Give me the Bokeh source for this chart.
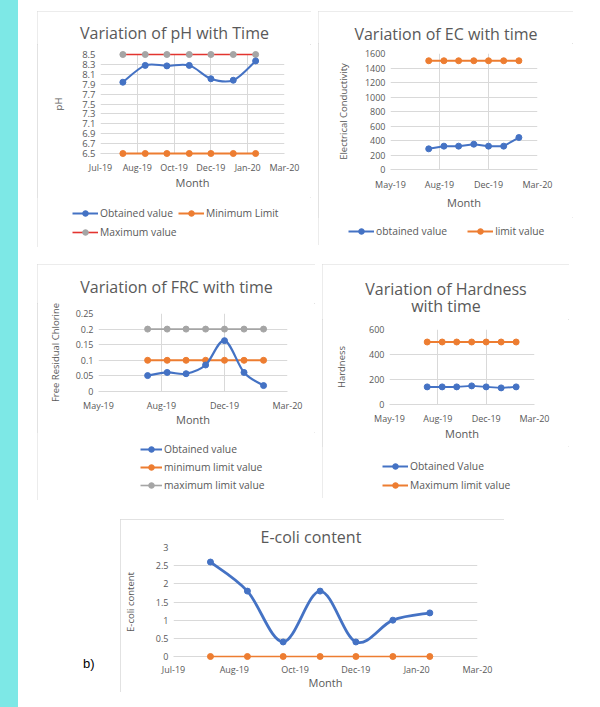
import pandas as pd
from bokeh.plotting import figure
from bokeh.models import (FixedTicker, DatetimeTickFormatter, Legend, LegendItem,
                          Range1d, Spacer, Div, Label, GlobalInlineStyleSheet)
from bokeh.layouts import row, column
from bokeh.embed import file_html
from bokeh.resources import INLINE

# ---------------- data ----------------
sample_months = ["2019-08-01", "2019-09-01", "2019-10-01", "2019-11-01",
                 "2019-12-01", "2020-01-01", "2020-02-01"]

ph_obtained = [7.94, 8.28, 8.27, 8.28, 8.01, 7.98, 8.37]
ph_minimum = [6.5, 6.5, 6.5, 6.5, 6.5, 6.5, 6.5]
ph_maximum = [8.5, 8.5, 8.5, 8.5, 8.5, 8.5, 8.5]
ph_yticks = [6.5, 6.7, 6.9, 7.1, 7.3, 7.5, 7.7, 7.9, 8.1, 8.3, 8.5]

ec_obtained = [285, 322, 322, 349, 322, 322, 441]
ec_limit = [1500, 1500, 1500, 1500, 1500, 1500, 1500]
ec_yticks = [0, 200, 400, 600, 800, 1000, 1200, 1400, 1600]

frc_obtained = [0.051, 0.061, 0.057, 0.085, 0.163, 0.061, 0.019]
frc_minimum = [0.1, 0.1, 0.1, 0.1, 0.1, 0.1, 0.1]
frc_maximum = [0.2, 0.2, 0.2, 0.2, 0.2, 0.2, 0.2]
frc_yticks = [0, 0.05, 0.1, 0.15, 0.2, 0.25]

hardness_obtained = [141, 141, 141, 149, 141, 133, 141]
hardness_maximum = [500, 500, 500, 500, 500, 500, 500]
hardness_yticks = [0, 200, 400, 600]

ecoli_obtained = [2.6, 1.8, 0.4, 1.8, 0.4, 1.0, 1.2]
ecoli_limit = [0, 0, 0, 0, 0, 0, 0]
ecoli_yticks = [0, 0.5, 1, 1.5, 2, 2.5, 3]

# axis tick dates (shown as Mon-YY)
xticks_short = ["2019-07-01", "2019-08-21", "2019-10-11", "2019-12-01", "2020-01-21", "2020-03-12"]
xticks_long = ["2019-05-15", "2019-08-23", "2019-12-01", "2020-03-10"]

# ---------------- style ----------------
FONT = "Open Sans"
TXT = "#595959"
GRID = "#D9D9D9"
BLUE = "#4472C4"
ORANGE = "#ED7D31"
GRAY = "#A5A5A5"
RED = "#E3342F"
BOX = {"outline": "1px solid #D9D9D9", "outline-offset": "-1px"}


def ms(dates):
    return [pd.Timestamp(d).timestamp() * 1000.0 for d in dates]


X = ms(sample_months)


def bare_fig(W, H, xr, yr):
    q = figure(width=W, height=H, x_range=xr, y_range=yr,
               output_backend="svg", toolbar_location=None, min_border=0,
               min_border_left=0, min_border_right=0, min_border_top=0,
               min_border_bottom=0, x_axis_location=None, y_axis_location=None,
               frame_align=False)
    q.grid.visible = False
    q.outline_line_color = None
    q.background_fill_color = "white"
    q.border_fill_color = "white"
    return q


def title_fig(W, H, text, c, lh=1.0):
    t = bare_fig(W, H, Range1d(0, 1), Range1d(0, 1))
    t.add_layout(Label(x=W / 2, y=H - c, x_units="screen", y_units="screen",
                       text=text, text_align="center", text_baseline="middle",
                       text_font=FONT, text_font_size="16px", text_color=TXT,
                       text_line_height=lh))
    return t


def make_fig(W, H, ml, mr, mt, mb, ylabel, yticks, xt, grid_inner,
             xls=8, xals=3, yals=15, title=None, ytick_size="9px"):
    t = ms(xt)
    kw = {}
    if title is not None:
        kw["title"] = title
    p = figure(width=W, height=H, x_axis_type="datetime",
               x_range=Range1d(t[0], t[-1]),
               y_range=Range1d(yticks[0], yticks[-1]),
               output_backend="svg", toolbar_location=None,
               min_border_left=ml, min_border_right=mr,
               min_border_top=mt, min_border_bottom=mb,
               frame_align=False, **kw)
    if title is not None:
        p.title.text_font = FONT
        p.title.text_font_size = "16px"
        p.title.text_font_style = "normal"
        p.title.text_color = TXT
    p.outline_line_color = None
    p.background_fill_color = "white"
    p.border_fill_color = "white"

    xa = p.xaxis[0]
    ya = p.yaxis[0]
    xa.ticker = FixedTicker(ticks=t)
    fmt = "%b-%y"
    xa.formatter = DatetimeTickFormatter(
        microseconds=fmt, milliseconds=fmt, seconds=fmt, minsec=fmt, minutes=fmt,
        hourmin=fmt, hours=fmt, days=fmt, months=fmt, years=fmt)
    ya.ticker = FixedTicker(ticks=yticks)
    ya.major_label_overrides = {v: f"{v:g}" for v in yticks}
    xa.axis_label = "Month"
    ya.axis_label = ylabel
    for ax in (xa, ya):
        ax.major_label_text_font = FONT
        ax.major_label_text_font_size = "9px"
        ax.major_label_text_color = TXT
        ax.axis_label_text_font = FONT
        ax.axis_label_text_font_style = "normal"
        ax.axis_label_text_color = TXT
        ax.major_tick_line_color = None
        ax.minor_tick_line_color = None
        ax.major_tick_out = 0
        ax.major_tick_in = 0
        ax.minor_tick_out = 0
    ya.major_label_text_font_size = ytick_size
    xa.axis_label_text_font_size = "11px"
    ya.axis_label_text_font_size = "9.5px"
    xa.axis_line_color = GRID
    ya.axis_line_color = None
    xa.major_label_standoff = xls
    xa.axis_label_standoff = xals
    ya.major_label_standoff = 5
    ya.axis_label_standoff = yals

    p.ygrid.grid_line_color = GRID
    p.ygrid.ticker = FixedTicker(ticks=yticks)
    if grid_inner is None:
        p.xgrid.grid_line_color = None
    elif grid_inner == "all":
        p.xgrid.grid_line_color = GRID
        p.xgrid.ticker = FixedTicker(ticks=t)
    else:
        p.xgrid.grid_line_color = GRID
        p.xgrid.ticker = FixedTicker(ticks=t[1:-1])
    return p


def smooth(xs, ys):
    n = len(xs)
    P = list(zip(xs, ys))
    d = dict(x0=[], y0=[], x1=[], y1=[], cx0=[], cy0=[], cx1=[], cy1=[])
    for i in range(n - 1):
        p0 = P[i - 1] if i > 0 else P[i]
        p1 = P[i]
        p2 = P[i + 1]
        p3 = P[i + 2] if i + 2 < n else P[i + 1]
        d["x0"].append(p1[0]); d["y0"].append(p1[1])
        d["x1"].append(p2[0]); d["y1"].append(p2[1])
        d["cx0"].append(p1[0] + (p2[0] - p0[0]) / 6.0)
        d["cy0"].append(p1[1] + (p2[1] - p0[1]) / 6.0)
        d["cx1"].append(p2[0] - (p3[0] - p1[0]) / 6.0)
        d["cy1"].append(p2[1] - (p3[1] - p1[1]) / 6.0)
    return d


def series(p, ys, line_color, marker_color=None, lw=2.0, size=6, smooth_line=False):
    marker_color = marker_color or line_color
    if smooth_line:
        d = smooth(X, ys)
        p.bezier(line_color=line_color, line_width=lw, level="overlay", **d)
    else:
        p.line(X, ys, line_color=line_color, line_width=lw, level="overlay")
    p.scatter(X, ys, size=size, marker="circle", fill_color=marker_color,
              line_color=marker_color, level="overlay")


def legend_fig(W, H, groups):
    # legend strip under a chart; its series renderers lie outside the view
    q = bare_fig(W, H, Range1d(X[0], X[-1]), Range1d(-2, -1))
    for items, vx, vy, orient, spacing, gw in groups:
        lis = []
        for label, ys, lc, mc, lw in items:
            lr = q.line(X, ys, line_color=lc, line_width=lw)
            sr = q.scatter(X, ys, marker="circle", size=6, fill_color=mc, line_color=mc)
            lis.append(LegendItem(label=label, renderers=[lr, sr]))
        lg = Legend(items=lis, location=(vx, vy), orientation=orient,
                    spacing=spacing, padding=0, margin=0,
                    border_line_color=None, background_fill_alpha=0,
                    glyph_width=gw, glyph_height=14, label_height=14,
                    label_standoff=2, label_text_font=FONT,
                    label_text_font_size="10.3px", label_text_color=TXT)
        q.add_layout(lg, "center")
    return q


def panel(*figs):
    return column(*figs, styles=BOX)


# ---------- pH ----------
t1 = title_fig(274, 33, "Variation of pH with Time", 21)
p1 = make_fig(274, 153, 63, 27, 10, 44, "pH",
              ph_yticks, xticks_short, "all", xls=7, xals=-2, yals=14, ytick_size="9.5px")
series(p1, ph_maximum, RED, GRAY, lw=1.6)
series(p1, ph_minimum, ORANGE, lw=2)
series(p1, ph_obtained, BLUE, lw=2, smooth_line=True)
q1 = legend_fig(274, 50, [
    ([("Obtained value", ph_obtained, BLUE, BLUE, 2),
      ("Minimum Limit", ph_minimum, ORANGE, ORANGE, 2)], 35, 27, "horizontal", 5, 26),
    ([("Maximum value", ph_maximum, RED, GRAY, 1.6)], 35, 8, "horizontal", 5, 26),
])

# ---------- EC ----------
t2 = title_fig(255, 32, "Variation of EC with time", 22)
p2 = make_fig(255, 174, 72, 36, 10, 48, "Electrical Conductivity",
              ec_yticks, xticks_long, "inner", xls=8, xals=1, yals=12)
series(p2, ec_limit, ORANGE, lw=2)
series(p2, ec_obtained, BLUE, lw=2)
q2 = legend_fig(255, 28, [
    ([("obtained value", ec_obtained, BLUE, BLUE, 2),
      ("limit value", ec_limit, ORANGE, ORANGE, 2)], 30, 7, "horizontal", 20, 26),
])

# ---------- FRC ----------
t3 = title_fig(278, 39, "Variation of FRC with time", 22)
p3 = make_fig(278, 129, 61, 28, 10, 41, "Free Residual Chlorine",
              frc_yticks, xticks_long, "inner", xls=7, xals=-3, yals=11)
series(p3, frc_maximum, GRAY, lw=1.6)
series(p3, frc_minimum, ORANGE, lw=2)
series(p3, frc_obtained, BLUE, lw=2.2, smooth_line=True)
q3 = legend_fig(278, 68, [
    ([("Obtained value", frc_obtained, BLUE, BLUE, 2),
      ("minimum limit value", frc_minimum, ORANGE, ORANGE, 2),
      ("maximum limit value", frc_maximum, GRAY, GRAY, 1.6)], 103, 8, "vertical", 4, 22),
])

# ---------- Hardness ----------
t4 = title_fig(247, 55, "Variation of Hardness\nwith time", 33, lh=0.8)
p4 = make_fig(247, 127, 67, 35, 10, 42, "Hardness",
              hardness_yticks, xticks_long, "inner", xls=7, xals=-2, yals=18)
series(p4, hardness_maximum, ORANGE, lw=2)
series(p4, hardness_obtained, BLUE, lw=2)
q4 = legend_fig(247, 52, [
    ([("Obtained Value", hardness_obtained, BLUE, BLUE, 2),
      ("Maximum limit value", hardness_maximum, ORANGE, ORANGE, 2)], 60, 6, "vertical", 5, 26),
])

# ---------- E-coli ----------
p5 = make_fig(384, 173, 50, 27, 28, 36, "E-coli content",
              ecoli_yticks, xticks_short, None, xls=6, xals=-4, yals=16,
              title="E-coli content")
p5.title.align = "left"
p5.title.offset = 87
p5.title.standoff = 0
p5.styles = BOX
series(p5, ecoli_limit, ORANGE, lw=1.6)
series(p5, ecoli_obtained, BLUE, lw=2.8, smooth_line=True)

bdiv = Div(text="b)", width=37, height=18, margin=0,
           styles={"font-family": "Liberation Sans, Arial, sans-serif",
                   "font-size": "13px", "color": "#000000"})

layout = column(
    Spacer(height=11, width=10),
    row(Spacer(width=37, height=1), panel(t1, p1, q1), Spacer(width=7, height=1),
        panel(t2, p2, q2)),
    Spacer(height=17, width=10),
    row(Spacer(width=37, height=1), panel(t3, p3, q3), Spacer(width=7, height=1),
        panel(t4, p4, q4)),
    Spacer(height=19, width=10),
    row(Spacer(width=83, height=1), column(Spacer(height=136, width=10), bdiv), p5),
)
layout.stylesheets = [GlobalInlineStyleSheet(
    css="body{background:linear-gradient(to right,#7DE8E6 0px,#7DE8E6 18px,#ffffff 18px);}")]

open("out.html", "w").write(file_html(layout, INLINE))
